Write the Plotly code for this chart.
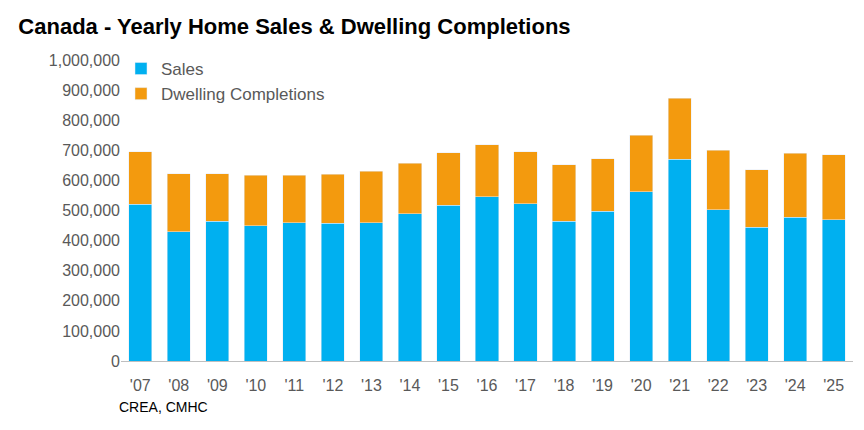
import plotly.graph_objects as go

years = ["'07", "'08", "'09", "'10", "'11", "'12", "'13", "'14", "'15", "'16",
         "'17", "'18", "'19", "'20", "'21", "'22", "'23", "'24", "'25"]
sales = [520000, 430000, 465000, 450000, 460000, 457000, 460000, 490000, 518000, 545000,
         522000, 465000, 498000, 563000, 670000, 503000, 445000, 478000, 470000]
totals = [695000, 622000, 622000, 617000, 617000, 620000, 630000, 657000, 692000, 718000,
          695000, 652000, 672000, 750000, 873000, 700000, 636000, 690000, 685000]
completions = [t - s for t, s in zip(totals, sales)]

fig = go.Figure()
fig.add_trace(go.Bar(x=years, y=sales, name="Sales", marker_color="#00B0F0"))
fig.add_trace(go.Bar(x=years, y=completions, name="Dwelling Completions", marker_color="#F39A0E"))

fig.update_layout(
    barmode="stack",
    bargap=0.4,
    width=864, height=430,
    margin=dict(l=113, r=19, t=52, b=77),
    plot_bgcolor="white", paper_bgcolor="white",
    font=dict(family="Liberation Sans, Arial", size=16, color="#595959"),
    title=dict(text="<b>Canada - Yearly Home Sales & Dwelling Completions</b>",
               x=0.012, y=0.975, xanchor="left", yanchor="top",
               font=dict(family="Liberation Sans Narrow, Arial Narrow, Liberation Sans", size=22, color="black")),
    legend=dict(x=0.0, y=1.03, xanchor="left", yanchor="top", traceorder="normal",
                font=dict(size=17), itemwidth=30, bgcolor="rgba(0,0,0,0)"),
    xaxis=dict(showline=True, linecolor="#BFBFBF", ticks="", tickfont=dict(size=16),
               ticklabelstandoff=10),
    yaxis=dict(range=[0, 1000000], dtick=100000, tickformat=",", showgrid=False,
               ticks="", tickfont=dict(size=16)),
)
fig.add_annotation(text="CREA, CMHC", xref="paper", yref="paper", x=-0.005, y=-0.12,
                   xanchor="left", yanchor="top", showarrow=False,
                   font=dict(size=14, color="black"))

fig.write_html("out.html")
